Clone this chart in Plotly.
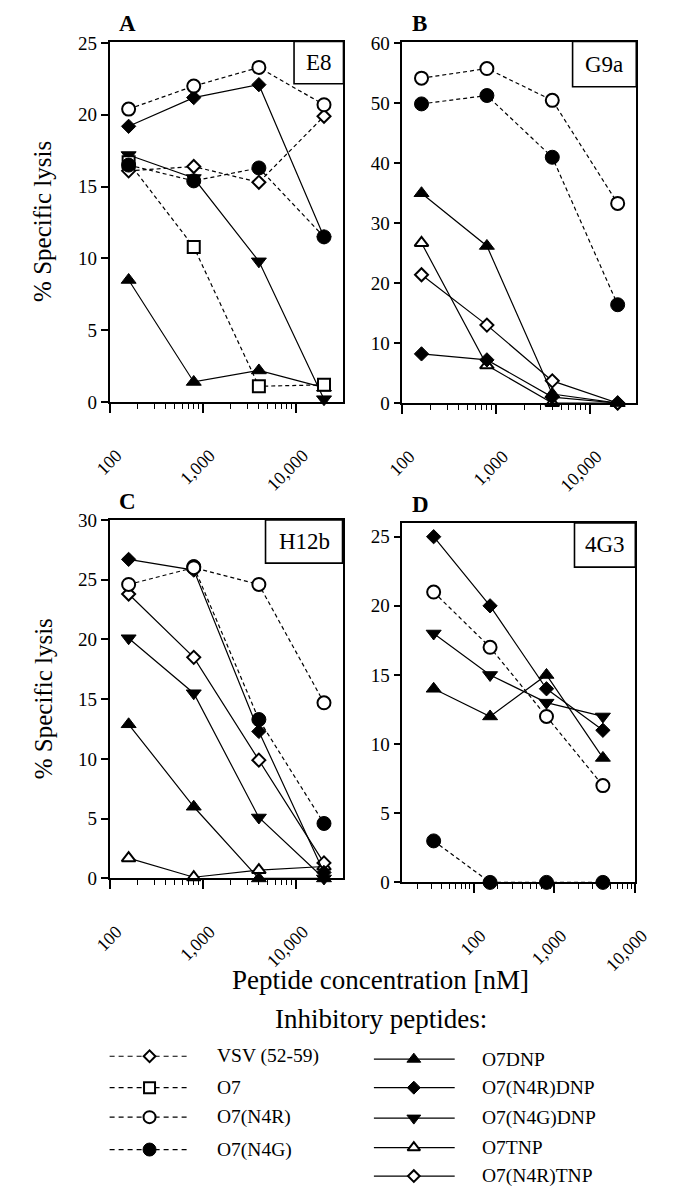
import plotly.graph_objects as go

# page body has an 8px default margin, so the figure is sized to fit inside it
PAGE_W, PAGE_H, BODY = 677, 1199, 8
W, H = PAGE_W - BODY, PAGE_H - 2 * BODY
FONT = "Liberation Serif"

# ---------------- data ----------------
conc_ABC = [160, 800, 4000, 20000]   # nM
conc_D = [32, 160, 800, 4000]        # nM

# Panel A (E8)
A_VSV = [16.1, 16.4, 15.3, 19.9]
A_O7 = [16.7, 10.8, 1.1, 1.2]
A_N4R = [20.4, 22.0, 23.3, 20.7]
A_N4G = [16.5, 15.4, 16.3, 11.5]
A_DNP = [8.5, 1.4, 2.2, 1.0]
A_N4RDNP = [19.2, 21.2, 22.1, 11.5]
A_N4GDNP = [17.2, 15.6, 9.8, 0.2]

# Panel B (G9a)
B_N4R = [54.2, 55.8, 50.5, 33.3]
B_N4G = [49.9, 51.3, 41.0, 16.4]
B_DNP = [35.0, 26.2, 1.5, 0.0]
B_N4RDNP = [8.2, 7.2, 1.0, 0.0]
B_TNP = [26.7, 6.3, 0.0, 0.0]
B_N4RTNP = [21.4, 13.0, 3.7, 0.0]

# Panel C (H12b)
C_N4R = [24.6, 26.0, 24.6, 14.7]
C_N4G = [None, 26.1, 13.3, 4.6]
C_DNP = [12.9, 6.0, 0.0, 0.0]
C_N4RDNP = [26.7, 25.8, 12.3, 0.5]
C_N4GDNP = [20.1, 15.5, 5.1, 0.0]
C_TNP = [1.7, 0.1, 0.7, 1.0]
C_N4RTNP = [23.8, 18.5, 9.9, 1.3]

# Panel D (4G3)
D_N4R = [21.0, 17.0, 12.0, 7.0]
D_N4G = [3.0, 0.0, 0.0, 0.0]
D_DNP = [14.0, 12.0, 15.0, 9.0]
D_N4RDNP = [25.0, 20.0, 14.0, 11.0]
D_N4GDNP = [18.0, 15.0, 13.0, 12.0]

x_tickvals = [100, 1000, 10000]
x_ticktext = ["100", "1,000", "10,000"]

legend_left = ["VSV (52-59)", "O7", "O7(N4R)", "O7(N4G)"]
legend_right = ["O7DNP", "O7(N4R)DNP", "O7(N4G)DNP", "O7TNP", "O7(N4R)TNP"]

# ---------------- styles ----------------
STYLE = {
    "VSV (52-59)": dict(symbol="diamond", filled=False, dash=True, size=10),
    "O7": dict(symbol="square", filled=False, dash=True, size=12),
    "O7(N4R)": dict(symbol="circle", filled=False, dash=True, size=13),
    "O7(N4G)": dict(symbol="circle", filled=True, dash=True, size=14),
    "O7DNP": dict(symbol="triangle-up", filled=True, dash=False, size=13),
    "O7(N4R)DNP": dict(symbol="diamond", filled=True, dash=False, size=11),
    "O7(N4G)DNP": dict(symbol="triangle-down", filled=True, dash=False, size=13),
    "O7TNP": dict(symbol="triangle-up", filled=False, dash=False, size=12),
    "O7(N4R)TNP": dict(symbol="diamond", filled=False, dash=False, size=10),
}
DASH = "4px,3px"
LEG_DASH = "5px,4px"


def px_x(p):
    return (p - BODY) / W


def px_y(p):
    return 1 - (p - BODY) / H


def minor_vals(lo_exp, hi_exp):
    out = []
    for e in range(lo_exp, hi_exp):
        out += [m * 10 ** e for m in range(2, 10)]
    return out


panels = [
    dict(letter="A", strain="E8", conc=conc_ABC, frame=(97, 32, 343, 399),
         xrange=[2, 4.51], yrange=[0, 25.1], dtick=5, box=(291, 75), minor=minor_vals(2, 4),
         series=[("O7DNP", A_DNP), ("O7(N4G)DNP", A_N4GDNP), ("O7(N4R)DNP", A_N4RDNP),
                 ("O7", A_O7), ("VSV (52-59)", A_VSV), ("O7(N4R)", A_N4R), ("O7(N4G)", A_N4G)]),
    dict(letter="B", strain="G9a", conc=conc_ABC, frame=(405, 32, 651, 400),
         xrange=[2, 4.5], yrange=[0, 60.3], dtick=10, box=(584, 78), minor=minor_vals(2, 4),
         series=[("O7TNP", B_TNP), ("O7(N4R)DNP", B_N4RDNP), ("O7(N4R)TNP", B_N4RTNP),
                 ("O7DNP", B_DNP), ("O7(N4G)", B_N4G), ("O7(N4R)", B_N4R)]),
    dict(letter="C", strain="H12b", conc=conc_ABC, frame=(97, 519, 342, 884),
         xrange=[2, 4.5], yrange=[0, 30], dtick=5, box=(261, 563), minor=minor_vals(2, 4),
         series=[("O7TNP", C_TNP), ("O7DNP", C_DNP), ("O7(N4G)DNP", C_N4GDNP),
                 ("O7(N4R)TNP", C_N4RTNP), ("O7(N4R)DNP", C_N4RDNP), ("O7(N4G)", C_N4G),
                 ("O7(N4R)", C_N4R)]),
    dict(letter="D", strain="4G3", conc=conc_D, frame=(405, 522, 650, 888),
         xrange=[1.118, 4.004], yrange=[0, 26], dtick=5, box=(586, 567), minor=minor_vals(1, 4),
         series=[("O7(N4G)", D_N4G), ("O7(N4R)", D_N4R), ("O7DNP", D_DNP),
                 ("O7(N4G)DNP", D_N4GDNP), ("O7(N4R)DNP", D_N4RDNP)]),
]

fig = go.Figure()
layout = dict(
    width=W, height=H, margin=dict(l=0, r=0, t=0, b=0),
    paper_bgcolor="white", plot_bgcolor="white", showlegend=False,
    font=dict(family=FONT, color="black"),
)
shapes, annotations = [], []


def marker_of(st):
    return dict(symbol=st["symbol"], size=st["size"],
                color="black" if st["filled"] else "white",
                line=dict(color="black", width=1 if st["filled"] else 2))


for i, p in enumerate(panels, start=1):
    xa = "x" if i == 1 else f"x{i}"
    ya = "y" if i == 1 else f"y{i}"
    l, t, r, b = p["frame"]
    axis_common = dict(showline=True, mirror=True, linecolor="black", linewidth=1.6,
                       showgrid=False, zeroline=False, ticks="outside", tickcolor="black")
    layout["xaxis" if i == 1 else f"xaxis{i}"] = dict(
        axis_common, type="log", range=p["xrange"], domain=[px_x(l), px_x(r)],
        anchor=ya, ticklen=9, tickwidth=1.5, tickvals=x_tickvals, ticktext=x_ticktext,
        tickangle=-45, tickfont=dict(size=18, family=FONT),
        ticklabelstandoff=25, ticklabelshift=7,
        minor=dict(tickvals=p["minor"], ticks="outside", ticklen=5, tickwidth=1.2,
                   tickcolor="black", showgrid=False),
    )
    layout["yaxis" if i == 1 else f"yaxis{i}"] = dict(
        axis_common, range=p["yrange"], domain=[px_y(b), px_y(t)], anchor=xa,
        dtick=p["dtick"], tick0=0, ticklen=7, tickwidth=1.5,
        tickfont=dict(size=19, family=FONT),
    )
    for name, vals in p["series"]:
        st = STYLE[name]
        fig.add_trace(go.Scatter(
            x=p["conc"], y=vals, xaxis=xa, yaxis=ya, mode="lines+markers", name=name,
            line=dict(color="black", width=1.2, dash=DASH if st["dash"] else "solid"),
            marker=marker_of(st), cliponaxis=False, connectgaps=False,
        ))
    # strain label box
    bx0, by1 = p["box"]
    shapes.append(dict(type="rect", xref="paper", yref="paper",
                       x0=px_x(bx0), x1=px_x(r), y0=px_y(by1), y1=px_y(t),
                       line=dict(color="black", width=1.6), fillcolor="white", layer="above"))
    annotations.append(dict(xref="paper", yref="paper", x=px_x((bx0 + r) / 2),
                            y=px_y((t + by1) / 2), text=p["strain"], showarrow=False,
                            font=dict(size=23, family=FONT), xanchor="center", yanchor="middle"))
    # panel letter
    annotations.append(dict(xref="paper", yref="paper", x=px_x(l + 8), y=px_y(t - 4),
                            text=f"<b>{p['letter']}</b>", showarrow=False,
                            font=dict(size=23, family=FONT), xanchor="left", yanchor="bottom"))

# y-axis titles
for (t, b) in [(32, 399), (519, 884)]:
    annotations.append(dict(xref="paper", yref="paper", x=px_x(27), y=px_y((t + b) / 2),
                            text="% Specific lysis", textangle=-90, showarrow=False,
                            font=dict(size=25, family=FONT), xanchor="center", yanchor="middle"))

annotations.append(dict(xref="paper", yref="paper", x=px_x(382), y=px_y(987),
                        text="Peptide concentration [nM]", showarrow=False,
                        font=dict(size=27, family=FONT), xanchor="center", yanchor="middle"))
annotations.append(dict(xref="paper", yref="paper", x=px_x(382), y=px_y(1027),
                        text="Inhibitory peptides:", showarrow=False,
                        font=dict(size=27, family=FONT), xanchor="center", yanchor="middle"))

# ---------------- custom legend (hidden axis in page-pixel units) ----------------
LEG_TOP = 1040
LEG_BOT = BODY + H
layout["xaxis5"] = dict(domain=[0, 1], range=[BODY, BODY + W], visible=False,
                        anchor="y5", fixedrange=True)
layout["yaxis5"] = dict(domain=[0, px_y(LEG_TOP)], range=[LEG_BOT, LEG_TOP], visible=False,
                        anchor="x5", fixedrange=True)

columns = [
    (legend_left, (97, 139, 178), 208, [1065, 1097, 1127, 1160]),
    (legend_right, (375, 417, 460), 487, [1068, 1097, 1128, 1158, 1187]),
]
for names, (lx0, lxm, lx1), tx, rows in columns:
    for name, yy in zip(names, rows):
        st = STYLE[name]
        fig.add_trace(go.Scatter(
            x=[lx0, lx1], y=[yy, yy], xaxis="x5", yaxis="y5", mode="lines",
            line=dict(color="black", width=1.2, dash=LEG_DASH if st["dash"] else "solid"),
            hoverinfo="skip", cliponaxis=False))
        m = marker_of(st)
        m["size"] = st["size"] - 1
        fig.add_trace(go.Scatter(
            x=[lxm], y=[yy], xaxis="x5", yaxis="y5", mode="markers", marker=m,
            hoverinfo="skip", cliponaxis=False))
        annotations.append(dict(xref="paper", yref="paper", x=px_x(tx), y=px_y(yy),
                                text=name, showarrow=False, font=dict(size=19.5, family=FONT),
                                xanchor="left", yanchor="middle"))

layout["shapes"] = shapes
layout["annotations"] = annotations
fig.update_layout(**layout)
fig.write_html("out.html")
